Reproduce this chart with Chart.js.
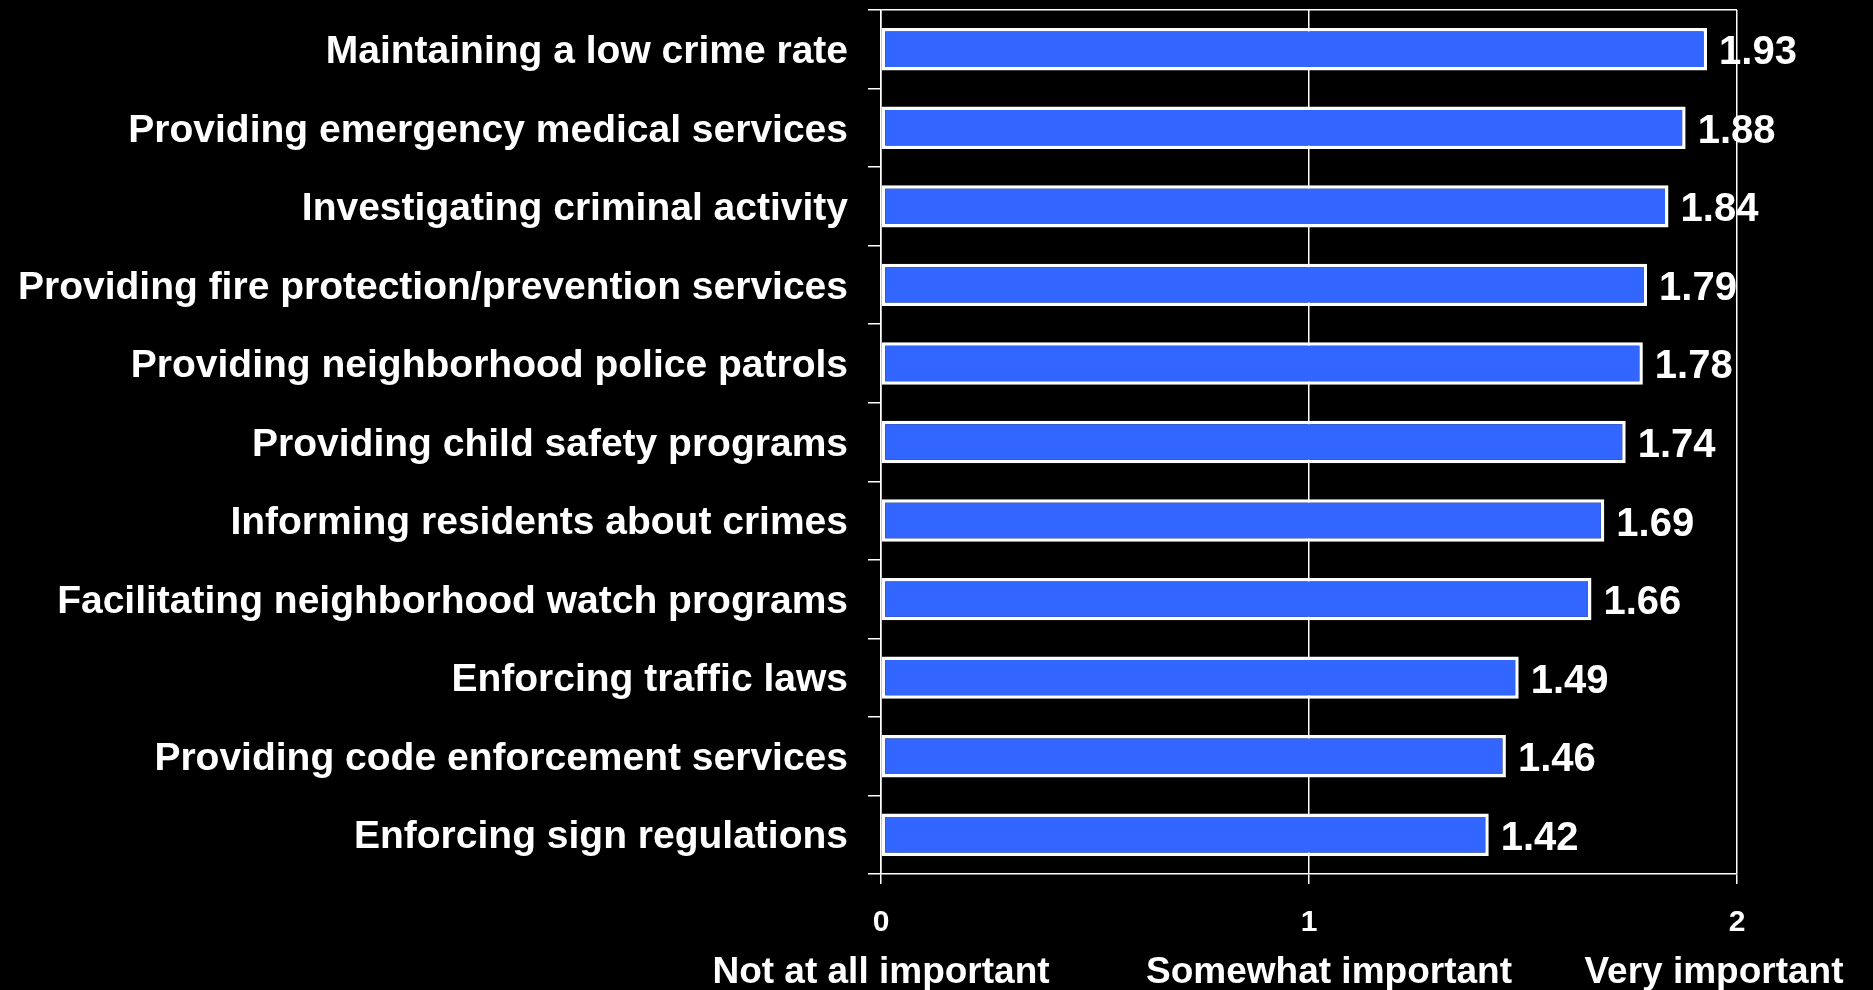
<!DOCTYPE html>
<html>
<head>
<meta charset="utf-8">
<title>Importance of public safety services</title>
<script src="https://cdn.jsdelivr.net/npm/chart.js@4/dist/chart.umd.min.js"></script>
<style>
  html, body { margin: 0; padding: 0; background: #000; }
  #wrap { width: 1873px; height: 990px; }
</style>
</head>
<body>
<div id="wrap"><canvas id="c" width="1873" height="990"></canvas></div>
<script>
// Services rated, top to bottom
const services = [
  'Maintaining a low crime rate',
  'Providing emergency medical services',
  'Investigating criminal activity',
  'Providing fire protection/prevention services',
  'Providing neighborhood police patrols',
  'Providing child safety programs',
  'Informing residents about crimes',
  'Facilitating neighborhood watch programs',
  'Enforcing traffic laws',
  'Providing code enforcement services',
  'Enforcing sign regulations'
];

// Mean importance rating (0 = not at all, 2 = very important)
const meanRatings = [1.93, 1.88, 1.84, 1.79, 1.78, 1.74, 1.69, 1.66, 1.49, 1.46, 1.42];

// Rating scale ticks and their meanings
const scaleTicks = [0, 1, 2];
const scaleMeanings = ['Not at all important', 'Somewhat important', 'Very important'];

const FONT = '"Liberation Sans", Arial, Helvetica, sans-serif';

// Writes each bar's value just past its end
const valueLabels = {
  id: 'valueLabels',
  afterDatasetsDraw(chart) {
    const ctx = chart.ctx;
    const meta = chart.getDatasetMeta(0);
    ctx.save();
    ctx.fillStyle = '#ffffff';
    ctx.font = 'bold 40px ' + FONT;
    ctx.textAlign = 'left';
    ctx.textBaseline = 'middle';
    meta.data.forEach((bar, i) => {
      ctx.fillText(meanRatings[i].toFixed(2), bar.x + 12, bar.y + 4);
    });
    ctx.restore();
  }
};

// Writes the meaning of each rating under its tick number
const scaleMeaningLabels = {
  id: 'scaleMeaningLabels',
  afterDraw(chart, args, opts) {
    const ctx = chart.ctx;
    const x = chart.scales.x;
    ctx.save();
    ctx.fillStyle = '#ffffff';
    ctx.font = 'bold 37px ' + FONT;
    ctx.textAlign = 'center';
    ctx.textBaseline = 'middle';
    scaleTicks.forEach((v, i) => {
      ctx.fillText(scaleMeanings[i], x.getPixelForValue(v) + opts.shift[i], chart.chartArea.bottom + opts.gap);
    });
    ctx.restore();
  }
};

new Chart(document.getElementById('c'), {
  type: 'bar',
  data: {
    labels: services,
    datasets: [{
      data: meanRatings,
      backgroundColor: '#3366ff',
      borderColor: '#ffffff',
      borderWidth: 3.5,
      borderSkipped: false,
      categoryPercentage: 1,
      barPercentage: 0.54
    }]
  },
  options: {
    indexAxis: 'y',
    responsive: false,
    animation: false,
    events: [],
    layout: { padding: { top: 10, right: 136, left: 0, bottom: 0 } },
    plugins: {
      legend: { display: false },
      tooltip: { enabled: false },
      scaleMeaningLabels: { shift: [0, 20, -23], gap: 99 }
    },
    scales: {
      x: {
        type: 'linear',
        min: 0,
        max: 2,
        afterBuildTicks(scale) {
          scale.ticks = scaleTicks.map(v => ({ value: v }));
        },
        afterFit(scale) {
          scale.height = 116;
          scale.paddingLeft = 0;
          scale.paddingRight = 0;
        },
        grid: {
          color: '#ffffff',
          lineWidth: 1.5,
          tickLength: 10,
          tickColor: '#ffffff'
        },
        border: { display: true, color: '#ffffff', width: 1.5 },
        ticks: {
          color: '#ffffff',
          font: { family: FONT, size: 30, weight: 'bold' },
          padding: 21,
          maxRotation: 0,
          callback: v => String(v)
        }
      },
      y: {
        type: 'category',
        afterFit(scale) {
          scale.width = 881;
          scale.paddingTop = 0;
          scale.paddingBottom = 0;
        },
        grid: {
          offset: true,
          drawOnChartArea: true,
          color: ctx => ctx.index === 0 ? '#ffffff' : 'rgba(0,0,0,0)',
          lineWidth: 1.5,
          tickLength: 13,
          tickColor: '#ffffff'
        },
        border: { display: true, color: '#ffffff', width: 1.5 },
        ticks: {
          color: '#ffffff',
          font: { family: FONT, size: 39, weight: 'bold' },
          padding: 20,
          labelOffset: 3,
          autoSkip: false
        }
      }
    }
  },
  plugins: [valueLabels, scaleMeaningLabels]
});
</script>
</body>
</html>
